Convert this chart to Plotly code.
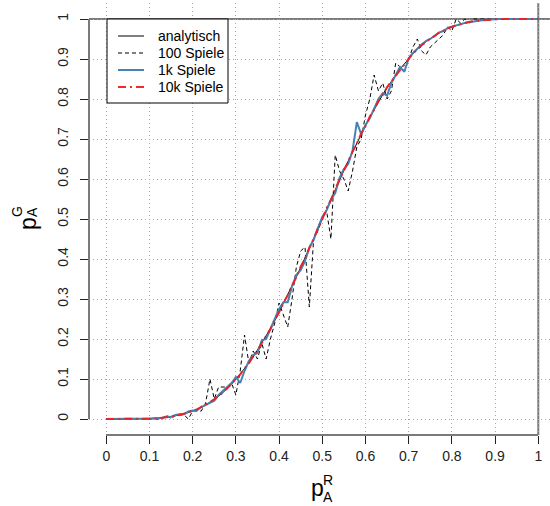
import plotly.graph_objects as go

# x grid (p_A^R) at steps of 0.01
p_r = [round(i * 0.01, 2) for i in range(101)]

analytisch = [
    0.000, 0.000, 0.000, 0.000, 0.000, 0.000, 0.000, 0.000, 0.000, 0.001,
    0.001, 0.001, 0.002, 0.003, 0.004, 0.006, 0.008, 0.010, 0.013, 0.016,
    0.020, 0.024, 0.029, 0.035, 0.042, 0.049, 0.057, 0.066, 0.076, 0.087,
    0.099, 0.112, 0.125, 0.140, 0.155, 0.172, 0.189, 0.207, 0.226, 0.246,
    0.267, 0.288, 0.310, 0.332, 0.355, 0.379, 0.402, 0.426, 0.451, 0.475,
    0.500, 0.525, 0.549, 0.574, 0.598, 0.621, 0.645, 0.668, 0.690, 0.712,
    0.733, 0.754, 0.774, 0.793, 0.811, 0.828, 0.845, 0.860, 0.875, 0.888,
    0.901, 0.913, 0.924, 0.934, 0.943, 0.951, 0.958, 0.965, 0.971, 0.976,
    0.980, 0.984, 0.987, 0.990, 0.992, 0.994, 0.996, 0.997, 0.998, 0.999,
    0.999, 0.999, 1.000, 1.000, 1.000, 1.000, 1.000, 1.000, 1.000, 1.000,
    1.000,
]

spiele_100 = [
    0.00, 0.00, 0.00, 0.00, 0.00, 0.00, 0.00, 0.00, 0.00, 0.00,
    0.00, 0.00, 0.00, 0.00, 0.01, 0.00, 0.01, 0.01, 0.01, 0.00,
    0.02, 0.02, 0.02, 0.04, 0.10, 0.05, 0.08, 0.08, 0.08, 0.09,
    0.06, 0.12, 0.21, 0.14, 0.17, 0.15, 0.19, 0.15, 0.20, 0.24,
    0.29, 0.26, 0.23, 0.30, 0.38, 0.42, 0.43, 0.28, 0.45, 0.47,
    0.50, 0.52, 0.45, 0.66, 0.62, 0.60, 0.57, 0.62, 0.68, 0.70,
    0.76, 0.80, 0.86, 0.82, 0.84, 0.80, 0.82, 0.89, 0.88, 0.87,
    0.90, 0.93, 0.95, 0.92, 0.91, 0.93, 0.94, 0.95, 0.96, 0.98,
    0.97, 1.00, 0.99, 1.00, 0.99, 1.00, 1.00, 1.00, 1.00, 1.00,
    1.00, 1.00, 1.00, 1.00, 1.00, 1.00, 1.00, 1.00, 1.00, 1.00,
    1.00,
]

spiele_1k = [
    0.000, 0.000, 0.000, 0.000, 0.000, 0.000, 0.000, 0.000, 0.000, 0.001,
    0.001, 0.002, 0.002, 0.003, 0.006, 0.005, 0.010, 0.012, 0.012, 0.019,
    0.021, 0.022, 0.030, 0.036, 0.040, 0.046, 0.060, 0.070, 0.082, 0.090,
    0.105, 0.090, 0.120, 0.145, 0.160, 0.165, 0.197, 0.200, 0.225, 0.252,
    0.275, 0.292, 0.292, 0.332, 0.360, 0.372, 0.395, 0.428, 0.448, 0.478,
    0.505, 0.522, 0.548, 0.565, 0.603, 0.625, 0.638, 0.670, 0.742, 0.712,
    0.735, 0.752, 0.777, 0.800, 0.815, 0.808, 0.840, 0.862, 0.880, 0.868,
    0.902, 0.915, 0.926, 0.936, 0.945, 0.950, 0.958, 0.966, 0.970, 0.977,
    0.981, 0.984, 0.988, 0.990, 0.993, 0.994, 0.996, 0.997, 0.998, 0.999,
    0.999, 1.000, 1.000, 1.000, 1.000, 1.000, 1.000, 1.000, 1.000, 1.000,
    1.000,
]

spiele_10k = [
    0.000, 0.000, 0.000, 0.000, 0.000, 0.000, 0.000, 0.000, 0.000, 0.001,
    0.001, 0.001, 0.002, 0.003, 0.005, 0.006, 0.008, 0.011, 0.013, 0.016,
    0.021, 0.024, 0.030, 0.035, 0.043, 0.049, 0.058, 0.066, 0.077, 0.087,
    0.100, 0.111, 0.127, 0.139, 0.157, 0.171, 0.190, 0.208, 0.225, 0.248,
    0.266, 0.290, 0.309, 0.334, 0.354, 0.381, 0.401, 0.428, 0.450, 0.477,
    0.499, 0.527, 0.548, 0.575, 0.597, 0.623, 0.644, 0.669, 0.689, 0.714,
    0.732, 0.756, 0.773, 0.795, 0.810, 0.830, 0.844, 0.861, 0.874, 0.889,
    0.900, 0.914, 0.923, 0.935, 0.942, 0.952, 0.957, 0.966, 0.970, 0.977,
    0.980, 0.985, 0.987, 0.990, 0.992, 0.995, 0.996, 0.997, 0.998, 0.999,
    0.999, 1.000, 1.000, 1.000, 1.000, 1.000, 1.000, 1.000, 1.000, 1.000,
    1.000,
]

tick_vals = [round(i * 0.1, 1) for i in range(11)]
tick_text = ["0", "0.1", "0.2", "0.3", "0.4", "0.5", "0.6", "0.7", "0.8", "0.9", "1"]

legend_labels = ["analytisch", "100 Spiele", "1k Spiele", "10k Spiele"]

BLUE = "#4682B4"
RED = "rgba(238,32,32,0.95)"
FONT = "Liberation Sans, Arial, sans-serif"

styles = [
    dict(color="black", width=1, dash="solid"),
    dict(color="black", width=1, dash="4px,3px"),
    dict(color=BLUE, width=2, dash="solid"),
    dict(color=RED, width=2, dash="8px,4px,2px,4px"),
]
series = [analytisch, spiele_100, spiele_1k, spiele_10k]

fig = go.Figure()
for name, ys, st in zip(legend_labels, series, styles):
    fig.add_trace(go.Scatter(x=p_r, y=ys, mode="lines", name=name,
                             line=st, showlegend=False, cliponaxis=True))

W, H = 550, 506
ML, MR, MT, MB = 89, 0, 3, 71
pw = W - ML - MR
ph = H - MT - MB

def px_x(px):
    return (px - ML) / pw

def px_y(py):
    return (H - MB - py) / ph

grid_col = "#a8a8a8"
axis_col = "#7a7a7a"

fig.update_xaxes(
    range=[-0.04, -0.04 + pw / 432.0], tickvals=tick_vals, ticktext=tick_text,
    showgrid=True, gridcolor=grid_col, griddash="1px,3px", gridwidth=1,
    zeroline=False, showline=False, ticks="outside", ticklen=8, tickwidth=1,
    tickcolor="#222", tickfont=dict(family=FONT, size=14, color="#222"),
    fixedrange=True, automargin=False,
)
fig.update_yaxes(
    range=[-0.04, 1.04], tickvals=tick_vals, ticktext=tick_text,
    showgrid=True, gridcolor=grid_col, griddash="1px,3px", gridwidth=1,
    zeroline=False, showline=False, ticks="outside", ticklen=8, tickwidth=1,
    tickcolor="#222", tickangle=-90, ticklabelstandoff=6,
    tickfont=dict(family=FONT, size=14, color="#222"),
    fixedrange=True, automargin=False,
)

shapes = []
# axis lines spanning 0..1
shapes.append(dict(type="line", xref="paper", yref="paper",
                   x0=0, x1=0, y0=px_y(419), y1=px_y(19),
                   line=dict(color=axis_col, width=2), layer="above"))
shapes.append(dict(type="line", xref="paper", yref="paper",
                   x0=px_x(106), x1=px_x(538), y0=0, y1=0,
                   line=dict(color=axis_col, width=2), layer="above"))
# reference lines at 1
shapes.append(dict(type="line", xref="paper", yref="y",
                   x0=0, x1=1, y0=1, y1=1,
                   line=dict(color=axis_col, width=2), layer="between"))
shapes.append(dict(type="line", xref="x", yref="paper",
                   x0=1, x1=1, y0=0, y1=1,
                   line=dict(color=axis_col, width=2), layer="between"))

# legend box
lx0, lx1, ly0, ly1 = 107, 228, 19, 103
shapes.append(dict(type="rect", xref="paper", yref="paper",
                   x0=px_x(lx0), x1=px_x(lx1), y0=px_y(ly1), y1=px_y(ly0),
                   line=dict(color="black", width=1), fillcolor="white",
                   layer="above"))
rows = [36, 53, 70, 87]
annotations = []
for lab, st, ry in zip(legend_labels, styles, rows):
    shapes.append(dict(type="line", xref="paper", yref="paper",
                       x0=px_x(118), x1=px_x(144), y0=px_y(ry), y1=px_y(ry),
                       line=st, layer="above"))
    annotations.append(dict(text=lab, xref="paper", yref="paper",
                            x=px_x(156), y=px_y(ry), xanchor="left",
                            yanchor="middle", showarrow=False,
                            font=dict(family=FONT, size=14, color="black")))

def title_part(text, px, py, size, angle=0):
    return dict(text=text, xref="paper", yref="paper", x=px_x(px), y=px_y(py),
                xanchor="center", yanchor="middle", textangle=angle,
                showarrow=False, borderpad=0,
                font=dict(family=FONT, size=size, color="black"))

# axis titles p_A^R and p_A^G
annotations += [
    title_part("p", 317, 488, 23),
    title_part("R", 328, 480, 14),
    title_part("A", 328, 497, 14),
    title_part("p", 28, 223, 23, -90),
    title_part("G", 17, 212, 14, -90),
    title_part("A", 32, 212, 14, -90),
]

fig.update_layout(
    width=W, height=H,
    margin=dict(l=ML, r=MR, t=MT, b=MB, pad=0, autoexpand=False),
    paper_bgcolor="white", plot_bgcolor="white",
    shapes=shapes, annotations=annotations,
    font=dict(family=FONT),
    showlegend=False,
)

fig.write_html("out.html",
               config={"displayModeBar": False, "staticPlot": True},
               post_script="document.body.style.margin='0';"
                           "document.body.style.padding='0';")
